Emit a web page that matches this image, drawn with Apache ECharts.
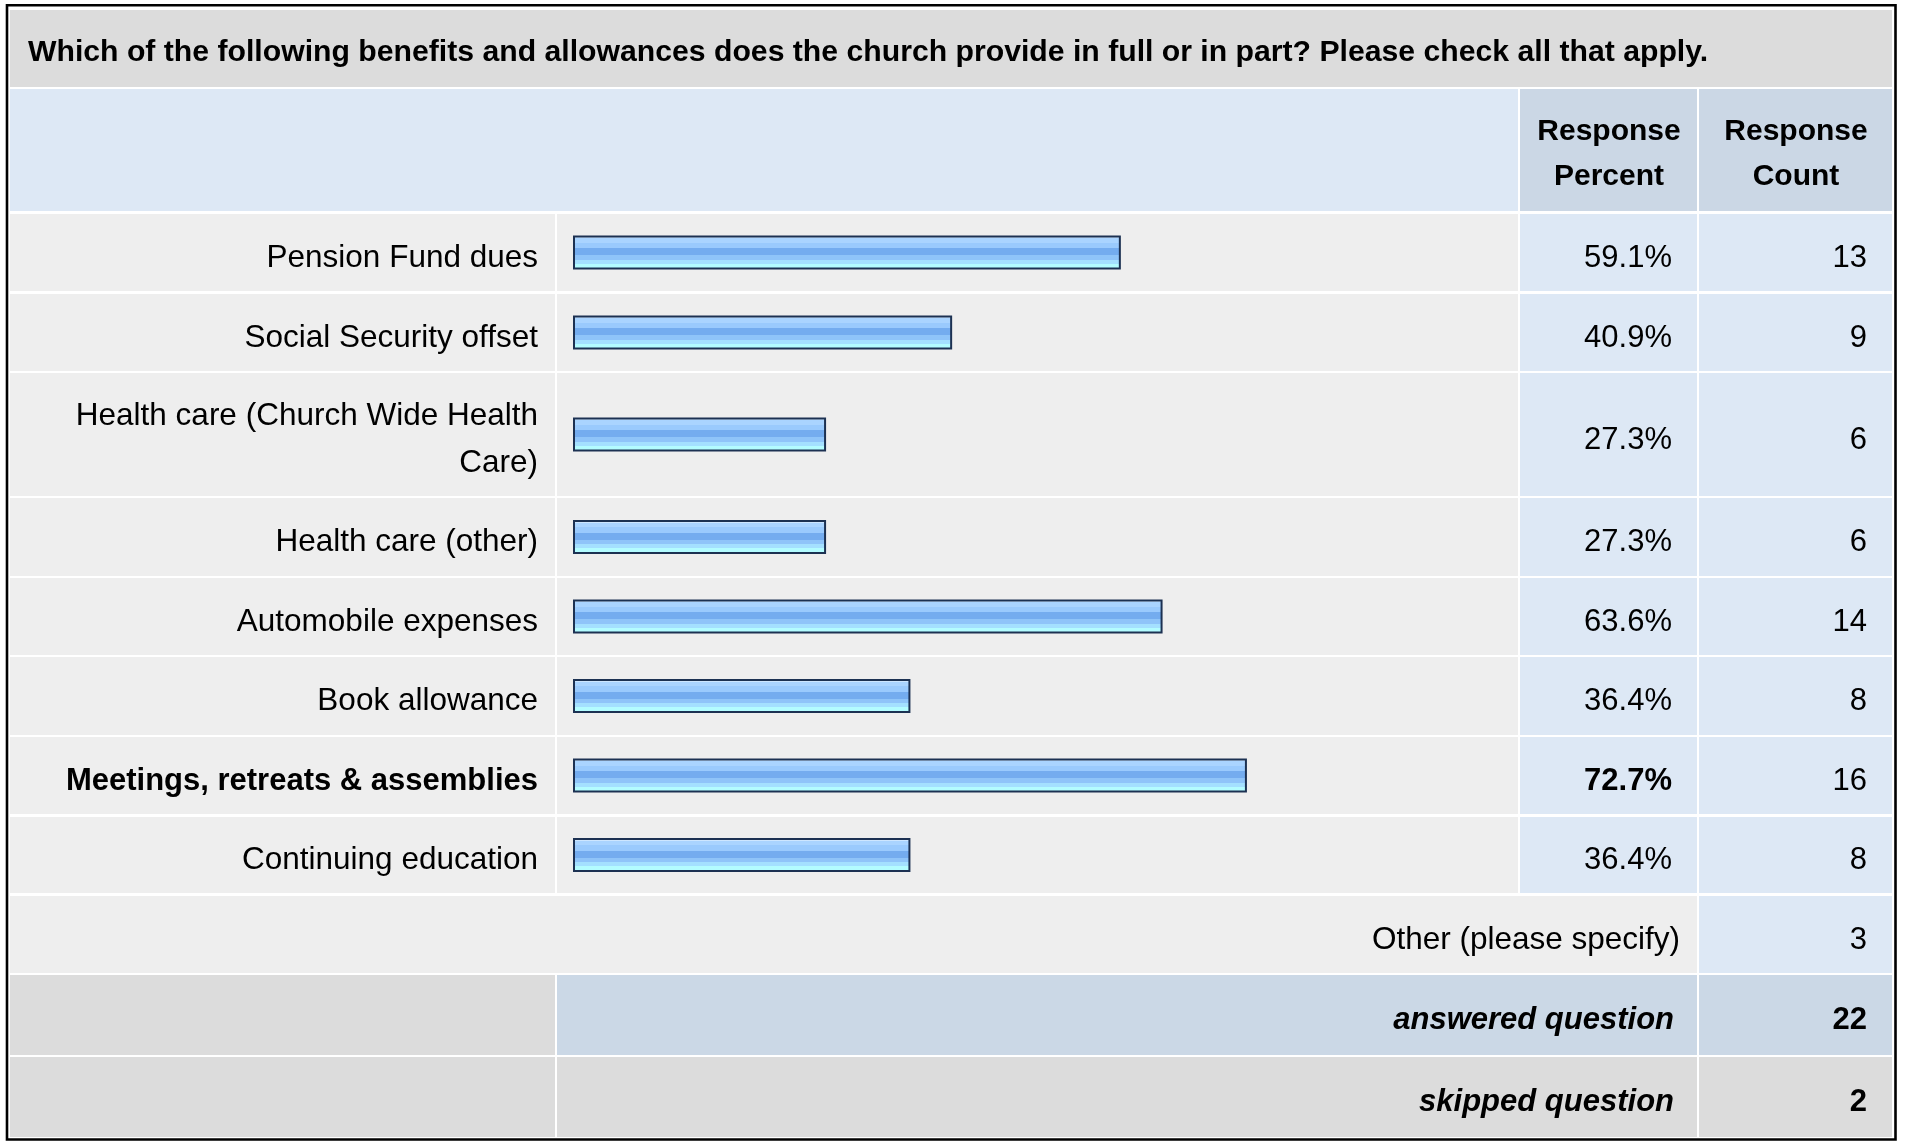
<!DOCTYPE html>
<html>
<head>
<meta charset="utf-8">
<script src="https://cdn.jsdelivr.net/npm/echarts@6/dist/echarts.min.js"></script>
<style>
  html, body { margin: 0; padding: 0; background: #ffffff; }
  #chart { width: 1907px; height: 1141px; }
</style>
</head>
<body>
<div id="chart"></div>
<script>
// ---- survey data ----
const question = 'Which of the following benefits and allowances does the church provide in full or in part? Please check all that apply.';
const categories = [
  'Pension Fund dues',
  'Social Security offset',
  'Health care (Church Wide Health Care)',
  'Health care (other)',
  'Automobile expenses',
  'Book allowance',
  'Meetings, retreats & assemblies',
  'Continuing education'
];
const responsePercent = [59.1, 40.9, 27.3, 27.3, 63.6, 36.4, 72.7, 36.4];
const responseCount = [13, 9, 6, 6, 14, 8, 16, 8];
const headerPercent = ['Response', 'Percent'];
const headerCount = ['Response', 'Count'];
const otherLabel = 'Other (please specify)';
const otherCount = 3;
const answeredLabel = 'answered question';
const answeredCount = 22;
const skippedLabel = 'skipped question';
const skippedCount = 2;

// ---- table layout (pixels) ----
const FONT = '"Liberation Sans", Arial, Helvetica, sans-serif';
const COL_LABEL = [10, 555];
const COL_BAR = [557, 1518];
const COL_PCT = [1520, 1697];
const COL_CNT = [1699, 1892];
const TITLE_ROW = [10, 87];
const HEADER_ROW = [89, 211];
const ROWS = [
  [214, 291], [294, 371], [373, 496], [498, 576], [578, 655],
  [657, 735], [737, 814], [817, 893], [896, 973], [975, 1055], [1057, 1137]
];
const BAR_LEFT = 573;
const BAR_SPAN = 927;      // width of the 0..100 % scale
const LABEL_WIDTH = 505;   // wrapping width of the answer labels
const LABEL_SIZE = 31.5;
const TEXT_SHIFT = 5.5;    // optical centring of text inside a row

const C_TITLE = '#dcdcdc';
const C_HEAD_LEFT = '#dde8f5';
const C_HEAD_CELL = '#cbd7e5';
const C_ROW_GRAY = '#eeeeee';
const C_ROW_BLUE = '#dde8f5';
const C_SUM_BLUE = '#cbd8e6';
const C_SUM_GRAY = '#dcdcdc';

const maxPct = Math.max.apply(null, responsePercent);

// word wrap for the label column (lines end on a word, no trailing space)
const measureCtx = document.createElement('canvas').getContext('2d');
function wrapLabel(text, weight, size, maxWidth) {
  measureCtx.font = weight + ' ' + size + 'px ' + FONT;
  const lines = [];
  let line = '';
  text.split(' ').forEach(word => {
    const test = line ? line + ' ' + word : word;
    if (line && measureCtx.measureText(test).width > maxWidth) {
      lines.push(line);
      line = word;
    } else {
      line = test;
    }
  });
  lines.push(line);
  return lines.join('\n');
}

function cell(x0, x1, y0, y1, fill) {
  return { type: 'rect', z: 0, silent: true,
    shape: { x: x0, y: y0, width: x1 - x0, height: y1 - y0 },
    style: { fill: fill } };
}
function txt(text, x, y, extra) {
  return { type: 'text', z: 10, silent: true,
    style: Object.assign({ text: String(text), x: x, y: y, fill: '#000000',
      fontFamily: FONT, fontSize: 31, align: 'right', verticalAlign: 'middle' }, extra || {}) };
}
const mid = r => (r[0] + r[1]) / 2;

const elements = [];
// frame
elements.push({ type: 'rect', z: 20, silent: true,
  shape: { x: 7, y: 5.2, width: 1888.5, height: 1134.3 },
  style: { fill: 'none', stroke: '#000000', lineWidth: 2.6 } });

// title row
elements.push(cell(COL_LABEL[0], COL_CNT[1], TITLE_ROW[0], TITLE_ROW[1], C_TITLE));
elements.push(txt(question, 28, mid(TITLE_ROW) + 4.5, { align: 'left', fontWeight: 'bold', fontSize: 30.2 }));

// header row
elements.push(cell(COL_LABEL[0], COL_BAR[1], HEADER_ROW[0], HEADER_ROW[1], C_HEAD_LEFT));
elements.push(cell(COL_PCT[0], COL_PCT[1], HEADER_ROW[0], HEADER_ROW[1], C_HEAD_CELL));
elements.push(cell(COL_CNT[0], COL_CNT[1], HEADER_ROW[0], HEADER_ROW[1], C_HEAD_CELL));
const headStyle = { align: 'center', fontWeight: 'bold', fontSize: 30, lineHeight: 45 };
elements.push(txt(headerPercent.join('\n'), mid(COL_PCT) + 0.5, mid(HEADER_ROW) + 4, headStyle));
elements.push(txt(headerCount.join('\n'), mid(COL_CNT) + 0.5, mid(HEADER_ROW) + 4, headStyle));

// answer rows
categories.forEach((name, i) => {
  const r = ROWS[i];
  const isMax = responsePercent[i] === maxPct;
  const w = isMax ? 'bold' : 'normal';
  const size = isMax ? 31 : LABEL_SIZE;
  elements.push(cell(COL_LABEL[0], COL_LABEL[1], r[0], r[1], C_ROW_GRAY));
  elements.push(cell(COL_BAR[0], COL_BAR[1], r[0], r[1], C_ROW_GRAY));
  elements.push(cell(COL_PCT[0], COL_PCT[1], r[0], r[1], C_ROW_BLUE));
  elements.push(cell(COL_CNT[0], COL_CNT[1], r[0], r[1], C_ROW_BLUE));
  elements.push(txt(wrapLabel(name, w, size, LABEL_WIDTH), 538, mid(r) + TEXT_SHIFT,
    { fontWeight: w, fontSize: size, lineHeight: 47 }));
  elements.push(txt(responsePercent[i].toFixed(1) + '%', 1672, mid(r) + TEXT_SHIFT, { fontWeight: w }));
  elements.push(txt(responseCount[i], 1867, mid(r) + TEXT_SHIFT));
});

// other / answered / skipped
const rOther = ROWS[categories.length];
const rAns = ROWS[categories.length + 1];
const rSkip = ROWS[categories.length + 2];
elements.push(cell(COL_LABEL[0], COL_PCT[1], rOther[0], rOther[1], C_ROW_GRAY));
elements.push(cell(COL_CNT[0], COL_CNT[1], rOther[0], rOther[1], C_ROW_BLUE));
elements.push(txt(otherLabel, 1680, mid(rOther) + TEXT_SHIFT, { fontSize: LABEL_SIZE }));
elements.push(txt(otherCount, 1867, mid(rOther) + TEXT_SHIFT));

elements.push(cell(COL_LABEL[0], COL_LABEL[1], rAns[0], rAns[1], C_SUM_GRAY));
elements.push(cell(COL_BAR[0], COL_PCT[1], rAns[0], rAns[1], C_SUM_BLUE));
elements.push(cell(COL_CNT[0], COL_CNT[1], rAns[0], rAns[1], C_SUM_BLUE));
elements.push(txt(answeredLabel, 1674, mid(rAns) + TEXT_SHIFT, { fontWeight: 'bold', fontStyle: 'italic' }));
elements.push(txt(answeredCount, 1867, mid(rAns) + TEXT_SHIFT, { fontWeight: 'bold' }));

elements.push(cell(COL_LABEL[0], COL_LABEL[1], rSkip[0], rSkip[1], C_SUM_GRAY));
elements.push(cell(COL_BAR[0], COL_PCT[1], rSkip[0], rSkip[1], C_SUM_GRAY));
elements.push(cell(COL_CNT[0], COL_CNT[1], rSkip[0], rSkip[1], C_SUM_GRAY));
elements.push(txt(skippedLabel, 1674, mid(rSkip) + TEXT_SHIFT, { fontWeight: 'bold', fontStyle: 'italic' }));
elements.push(txt(skippedCount, 1867, mid(rSkip) + TEXT_SHIFT, { fontWeight: 'bold' }));

// striped glossy fill of the bars
const bands = [
  [0.00, '#cde6ff'], [0.08, '#aad4ff'], [0.21, '#9acafd'], [0.38, '#74acef'],
  [0.58, '#8fc4f9'], [0.71, '#a4e0ff'], [0.83, '#b3fcff']
];
const stops = [];
bands.forEach((b, k) => {
  const end = k + 1 < bands.length ? bands[k + 1][0] : 1;
  stops.push({ offset: b[0], color: b[1] }, { offset: end, color: b[1] });
});

// one grid per answer row so each bar sits in its own table row
const grids = [], xAxes = [], yAxes = [], series = [];
categories.forEach((name, i) => {
  const r = ROWS[i];
  grids.push({ left: BAR_LEFT, width: BAR_SPAN, top: r[0], height: r[1] - r[0] });
  xAxes.push({ type: 'value', gridIndex: i, min: 0, max: 100, show: false });
  yAxes.push({ type: 'category', gridIndex: i, data: [name], show: false });
  series.push({
    type: 'bar', name: name, xAxisIndex: i, yAxisIndex: i, z: 5,
    data: [responsePercent[i]], barWidth: 34, silent: true,
    itemStyle: {
      color: new echarts.graphic.LinearGradient(0, 0, 0, 1, stops),
      borderColor: '#1c3152', borderWidth: 2
    }
  });
});

const chart = echarts.init(document.getElementById('chart'), null, { renderer: 'canvas' });
chart.setOption({
  backgroundColor: '#ffffff',
  animation: false,
  grid: grids,
  xAxis: xAxes,
  yAxis: yAxes,
  series: series,
  graphic: { elements: elements }
});
</script>
</body>
</html>
